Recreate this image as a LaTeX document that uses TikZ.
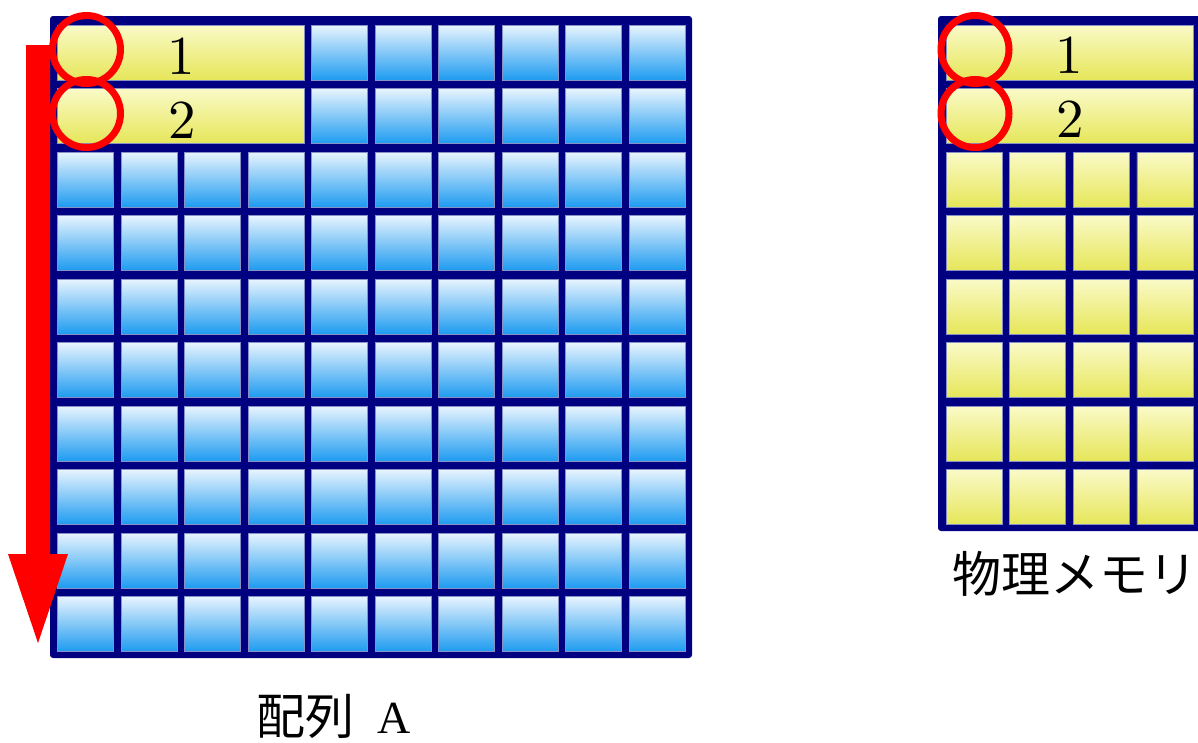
\documentclass[tikz,border=0pt]{standalone}
\usepackage{fontspec}
\newfontfamily\cjk{Noto Sans CJK JP}
\newfontfamily\lmten{lmroman10-regular.otf}
\definecolor{navy}{HTML}{000080}
\definecolor{bluetop}{HTML}{E8F4FE}
\definecolor{bluebot}{HTML}{1E9BF0}
\definecolor{yeltop}{HTML}{FAFAC8}
\definecolor{yelbot}{HTML}{E6E65A}
\definecolor{celledge}{HTML}{8890C8}
\tikzset{
  frame/.style={fill=navy, rounded corners=3pt},
  bluecell/.style={top color=bluetop, bottom color=bluebot, draw=celledge, line width=0.6pt},
  yelcell/.style={top color=yeltop, bottom color=yelbot, draw=celledge, line width=0.6pt},
  ring/.style={draw=red, line width=7pt},
  num/.style={font=\lmten\fontsize{55}{60}\selectfont, inner sep=0pt},
  label/.style={font=\cjk\fontsize{49}{54}\selectfont, inner sep=0pt}
}
\begin{document}
\begin{tikzpicture}[x=1pt,y=-1pt]
\useasboundingbox (0,0) rectangle (1198,742);
\clip (0,0) rectangle (1198,742);
% ---------- left grid (array A) ----------
\fill[frame] (50,16) rectangle (692,658);
\foreach \r in {2,...,9} {
  \foreach \c in {0,...,9} {
    \shade[bluecell] ({57.5+63.5*\c},{25+63.5*\r}) rectangle ++(56,55);
  }
}
\foreach \r in {0,1} {
  \foreach \c in {4,...,9} {
    \shade[bluecell] ({57.5+63.5*\c},{25+63.5*\r}) rectangle ++(56,55);
  }
  \shade[yelcell] (57.5,{25+63.5*\r}) rectangle ++(247,55);
}
\node[num] (a1) at (181.5,56) {1};
\node[num] (a2) at (182.5,120) {2};
% ---------- right grid (physical memory) ----------
\fill[frame] (938,16) rectangle (1220,531);
\foreach \r in {2,...,7} {
  \foreach \c in {0,...,3} {
    \shade[yelcell] ({946+63.6*\c},{25+63.5*\r}) rectangle ++(56,55);
  }
}
\foreach \r in {0,1} {
  \shade[yelcell] (946,{25+63.5*\r}) rectangle ++(247,55);
}
\node[num] (m1) at (1069.5,55) {1};
\node[num] (m2) at (1070.5,119) {2};
% ---------- red rings ----------
\draw[ring] (86.5,49.5) circle (34);
\draw[ring] (86.5,113.5) circle (34);
\draw[ring] (975,49.5) circle (34);
\draw[ring] (975,113.5) circle (34);
% ---------- red arrow ----------
\fill[red] (26,45) -- (50,45) -- (50,554) -- (68,554) -- (38,643) -- (8,554) -- (26,554) -- cycle;
% ---------- labels ----------
\node[label, anchor=base west] (la) at (256,734) {配列};
\node[font=\fontspec{Liberation Serif}\fontsize{46}{50}\selectfont, inner sep=0pt, anchor=base west] (lA) at (377,733) {A};
\node[label, anchor=base west] (lm) at (952,592) {物理メモリ};
\end{tikzpicture}
\end{document}
